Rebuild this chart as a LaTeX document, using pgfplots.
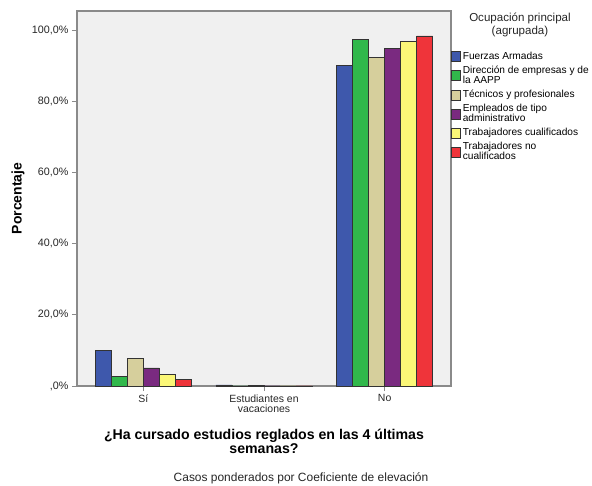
\documentclass[border=0pt]{standalone}
\usepackage{pgfplots}
\pgfplotsset{compat=1.18}
\usepackage{fontspec}
\setmainfont{Liberation Sans}
\definecolor{cBlue}{HTML}{3E58AC}
\definecolor{cGreen}{HTML}{31B84B}
\definecolor{cTan}{HTML}{D6CF9C}
\definecolor{cPurple}{HTML}{7A2A80}
\definecolor{cYellow}{HTML}{FBF777}
\definecolor{cRed}{HTML}{EF343A}
\definecolor{bgc}{HTML}{F0F0F0}
\definecolor{axc}{HTML}{8A8A8A}
\begin{document}
\begin{tikzpicture}
\path[use as bounding box] (-77bp,-100bp) rectangle (515bp,386bp);
\begin{axis}[
  at={(0,0)}, anchor=south west,
  scale only axis, width=374bp, height=375bp,
  xmin=-0.55, xmax=2.55, ymin=0, ymax=105.4,
  ybar=0pt, bar width=16bp,
  legend image code/.code={\draw[#1] (0bp,-5bp) rectangle (9bp,5bp);},
  axis background/.style={fill=bgc},
  axis line style={draw=axc, line width=1.2bp},
  xtick={0,1,2},
  xticklabels={S\'{\i},{Estudiantes en\\vacaciones},No},
  xticklabel style={align=center, font=\fontsize{10.5}{10.5}\selectfont, text=black!85},
  ytick={0,20,40,60,80,100},
  yticklabels={{,0\%},{20,0\%},{40,0\%},{60,0\%},{80,0\%},{100,0\%}},
  yticklabel style={font=\fontsize{10.8}{10.8}\selectfont, text=black!85},
  /pgf/number format/assume math mode=true,
  tick align=outside, major tick length=5bp,
  tick style={draw=axc, line width=1bp},
  xtick pos=bottom, ytick pos=left,
  ylabel={Porcentaje},
  ylabel style={font=\bfseries\fontsize{14}{14}\selectfont, at={(axis description cs:-0.158,0.5)}, anchor=center},
  xlabel={¿Ha cursado estudios reglados en las 4 últimas\\semanas?},
  xlabel style={font=\bfseries\fontsize{14.2}{13.5}\selectfont, at={(axis description cs:0.5,-0.148)}, anchor=center, align=center},
  legend style={at={(1,1)}, anchor=north west, yshift=-39bp, draw=none, fill=none,
    font=\fontsize{10.2}{10}\selectfont, cells={anchor=west, align=left},
    row sep=1.2bp, inner xsep=0pt, inner ysep=0pt},
  every axis plot/.append style={draw=black!80, line width=0.6bp},
]
\addplot[fill=cBlue] coordinates {(0,9.9) (1,0.3) (2,90.0)};
\addplot[fill=cGreen] coordinates {(0,2.8) (1,0.05) (2,97.4)};
\addplot[fill=cTan] coordinates {(0,7.7) (1,0.1) (2,92.3)};
\addplot[fill=cPurple] coordinates {(0,5.1) (1,0.05) (2,94.9)};
\addplot[fill=cYellow] coordinates {(0,3.3) (1,0.05) (2,96.9)};
\addplot[fill=cRed] coordinates {(0,1.8) (1,0.05) (2,98.4)};
\legend{Fuerzas Armadas,{Dirección de empresas y de\\la AAPP},Técnicos y profesionales,{Empleados de tipo\\administrativo},Trabajadores cualificados,{Trabajadores no\\cualificados}}
\end{axis}
\node[align=center, font=\fontsize{11.6}{13.5}\selectfont, text=black!85] at (443bp,361bp) {Ocupación principal\\(agrupada)};
\node[font=\fontsize{12}{12}\selectfont, text=black!85] at (224bp,-92bp) {Casos ponderados por Coeficiente de elevación};
\end{tikzpicture}
\end{document}
